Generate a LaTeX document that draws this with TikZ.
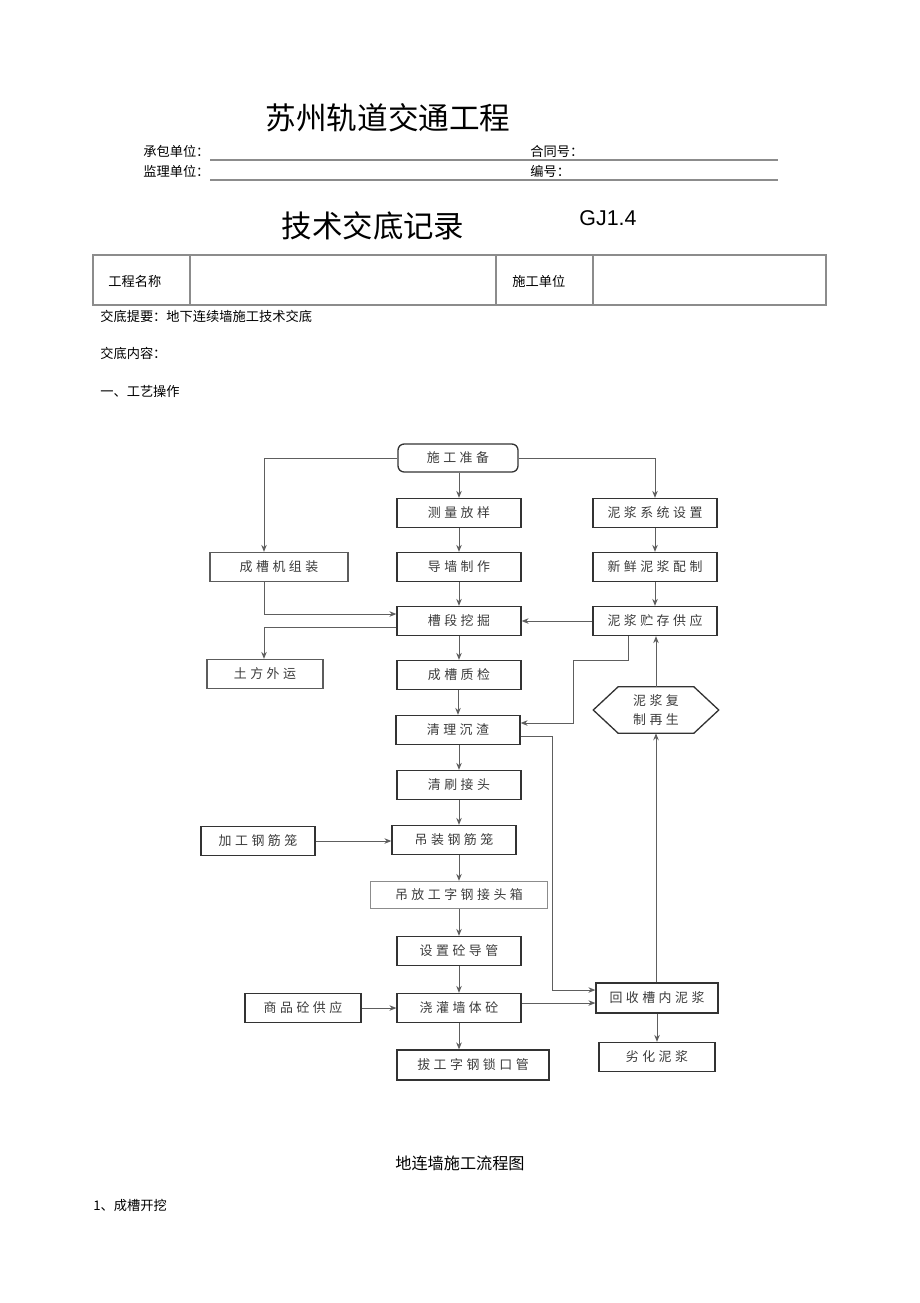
\documentclass[tikz,border=0pt]{standalone}
\usepackage{fontspec}
\setmainfont{Noto Sans CJK SC}
\newfontfamily\latinsans{Liberation Sans}
\newfontfamily\flowfont[LetterSpace=27]{Noto Sans CJK SC}
\usetikzlibrary{arrows.meta,calc}
\definecolor{boxline}{HTML}{333333}
\definecolor{conline}{HTML}{5E5E5E}
\definecolor{flowtext}{HTML}{3C3C3C}
\definecolor{rulegray}{HTML}{8C8C8C}
\tikzset{
  stepbox/.style={draw=boxline, line width=0.85pt, inner sep=0pt, minimum height=18.9pt, minimum width=80.6pt,
    font=\flowfont\fontsize{8.4pt}{9.5pt}\selectfont, text=flowtext},
  arr/.style={draw=conline, line width=0.6pt, -{Stealth[length=4.5pt,width=3.6pt]}},
  small/.style={font=\fontsize{8.6pt}{10pt}\selectfont, inner sep=0pt, anchor=west},
  rulel/.style={draw=rulegray, line width=1pt},
}
\begin{document}
\begin{tikzpicture}[x=0.65pt,y=-0.65pt]
\fill[white] (0,0) rectangle (920,1303);
\useasboundingbox (0,0) rectangle (920,1303);

% ---------- header ----------
\node[font=\fontsize{19.9pt}{22pt}\selectfont, inner sep=0pt] (title) at (388,118) {苏州轨道交通工程};
\node[small] (cb) at (143,151) {承包单位：};
\node[small] (ht) at (530,151) {合同号：};
\node[small] (jl) at (143,171) {监理单位：};
\node[small] (bh) at (530,171) {编号：};
\coordinate (r1a) at (210,160); \coordinate (r1b) at (778,160);
\coordinate (r2a) at (210,180); \coordinate (r2b) at (778,180);
\draw[rulel] (r1a) -- (r1b);
\draw[rulel] (r2a) -- (r2b);

\node[font=\fontsize{19.8pt}{22pt}\selectfont, inner sep=0pt] (jsjd) at (373,226) {技术交底记录};
\node[font=\latinsans\fontsize{13.9pt}{16pt}\selectfont, inner sep=0pt] (gj) at (608,218) {GJ1.4};

% table
\coordinate (t1) at (93,255); \coordinate (t2) at (826,305);
\draw[draw=rulegray, line width=1pt] (t1) rectangle (t2);
\coordinate (c1) at (190,255); \coordinate (c2) at (496,255); \coordinate (c3) at (593,255);
\draw[draw=rulegray, line width=0.8pt] (c1) -- (c1 |- t2);
\draw[draw=rulegray, line width=0.8pt] (c2) -- (c2 |- t2);
\draw[draw=rulegray, line width=0.8pt] (c3) -- (c3 |- t2);
\node[small] (gcmc) at (108,281) {工程名称};
\node[small] (sgdw) at (512,281) {施工单位};

\node[small] (tiyao) at (100,316) {交底提要：地下连续墙施工技术交底};
\node[small] (neirong) at (100,353) {交底内容：};
\node[small] (gongyi) at (100,391) {一、工艺操作};

% ---------- flowchart ----------
% centre column
\node[stepbox, rounded corners=4pt, minimum width=78pt, minimum height=18.2pt] (n1) at (458,458) {施工准备};
\node[stepbox] (n2) at (459,513) {测量放样};
\node[stepbox] (n3) at (459,567) {导墙制作};
\node[stepbox] (n4) at (459,621) {槽段挖掘};
\node[stepbox] (n5) at (459,675) {成槽质检};
\node[stepbox] (n6) at (458,730) {清理沉渣};
\node[stepbox] (n7) at (459,785) {清刷接头};
\node[stepbox] (n8) at (454,840) {吊装钢筋笼};
\node[stepbox, draw=rulegray, minimum width=115pt, minimum height=17.6pt] (n9) at (459,895) {吊放工字钢接头箱};
\node[stepbox] (n10) at (459,951) {设置砼导管};
\node[stepbox] (n11) at (459,1008) {浇灌墙体砼};
\node[stepbox, minimum width=98.8pt, minimum height=19.5pt] (n12) at (473,1065) {拔工字钢锁口管};

% left column
\node[stepbox, minimum width=89.7pt, draw=boxline!80] (L1) at (279,567) {成槽机组装};
\node[stepbox, minimum width=75.4pt, draw=boxline!80] (L2) at (265,674) {土方外运};
\node[stepbox, minimum width=74.1pt] (L3) at (258,841) {加工钢筋笼};
\node[stepbox, minimum width=75.4pt] (L4) at (303,1008) {商品砼供应};

% right column
\node[stepbox] (R1) at (655,513) {泥浆系统设置};
\node[stepbox] (R2) at (655,567) {新鲜泥浆配制};
\node[stepbox] (R3) at (655,621) {泥浆贮存供应};
\node[inner sep=0pt, minimum width=81.2pt, minimum height=29.9pt, align=center,
      font=\flowfont\fontsize{8.4pt}{12.8pt}\selectfont, text=flowtext] (R4) at (656,710) {泥浆复\\制再生};
\draw[draw=boxline, line width=0.85pt] (R4.west) -- ($(R4.north west)+(25,0)$) -- ($(R4.north east)+(-25,0)$)
  -- (R4.east) -- ($(R4.south east)+(-25,0)$) -- ($(R4.south west)+(25,0)$) -- cycle;
\node[stepbox, minimum width=79.3pt, minimum height=19.5pt] (R5) at (657,998) {回收槽内泥浆};
\node[stepbox, minimum width=75.4pt] (R6) at (657,1057) {劣化泥浆};

% helper coordinates
\coordinate (kL) at (264,0);
\coordinate (b1) at (628,660);
\coordinate (b2) at (573,660);
\coordinate (b4) at (552,990);
\coordinate (q) at ($(n11.east)+(0,-5)$);

% connectors
\draw[arr] (n1.west) -| (kL |- L1.north);
\draw[arr] (n1.east) -| (R1.north);
\draw[arr] (n1.south -| n2) -- (n2.north);
\draw[arr] (n2.south) -- (n3.north);
\draw[arr] (n3.south) -- (n4.north);
\draw[arr] (n4.south) -- (n5.north);
\draw[arr] (n5.south -| n6) -- (n6.north);
\draw[arr] (n6.south -| n7) -- (n7.north);
\draw[arr] (n7.south) -- (n7.south |- n8.north);
\draw[arr] (n8.south -| n9) -- (n9.north);
\draw[arr] (n9.south) -- (n10.north);
\draw[arr] (n10.south) -- (n11.north);
\draw[arr] (n11.south) -- (n11.south |- n12.north);

\draw[arr] (kL |- L1.south) |- ($(n4.west)+(0,-7)$);
\draw[arr] ($(n4.west)+(0,6)$) -| (kL |- L2.north);

\draw[arr] (R1.south) -- (R2.north);
\draw[arr] (R2.south) -- (R3.north);
\draw[arr] (R3.west) -- (n4.east);
\draw[arr] (R3.south -| b1) -- (b1) -- (b2) |- ($(n6.east)+(0,-7)$);
\draw[arr] ($(n6.east)+(0,6)$) -| (b4) -- (b4 -| R5.west);
\draw[arr] (q) -- (q -| R5.west);
\draw[arr] (R5.north -| R4) -- (R4.south);
\draw[arr] (R4.north) -- (R4.north |- R3.south);
\draw[arr] (R5.south) -- (R6.north);

\draw[arr] (L3.east) -- (L3.east -| n8.west);
\draw[arr] (L4.east) -- (L4.east -| n11.west);

% caption
\node[font=\fontsize{10.5pt}{12pt}\selectfont, inner sep=0pt] (cap) at (460,1163) {地连墙施工流程图};
\node[small] (kaiwa) at (93,1205) {1、成槽开挖};
\end{tikzpicture}
\end{document}
